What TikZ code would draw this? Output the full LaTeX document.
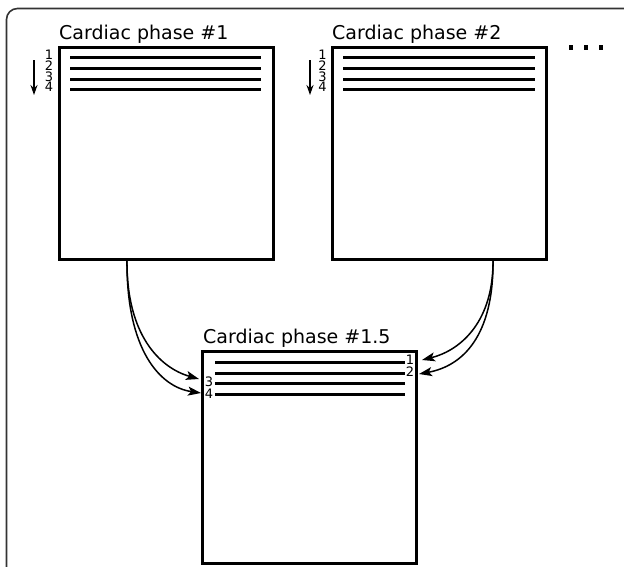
\documentclass[tikz,border=0pt]{standalone}
\usepackage{fontspec}
\setmainfont{DejaVu Sans}
\usetikzlibrary{arrows.meta}
\begin{document}
\begin{tikzpicture}[x=1pt,y=-1pt,
  phasebox/.style={draw, line width=3pt, minimum width=214pt, minimum height=212pt, inner sep=0pt},
  title/.style={font=\fontsize{19}{19}\selectfont, anchor=base west, inner sep=0pt},
  slice/.style={line width=3pt},
  num/.style={font=\fontsize{13}{13}\selectfont, inner sep=0pt},
  conn/.style={line width=1.5pt, -{Stealth[length=13pt,width=9pt,inset=3pt]}},
  order/.style={line width=1.8pt, -{Stealth[length=10pt,width=7pt]}},
  outer/.style={draw=black!80, line width=1.6pt, rounded corners=11pt}]
\useasboundingbox (0,0) rectangle (624,566);
\begin{scope}
  \clip (0,0) rectangle (624,566);
  \draw[outer] (6.5,8.5) rectangle (636,640);
\end{scope}

% boxes
\node[phasebox] (b1) at (166,153) {};
\node[phasebox] (b2) at (439.5,153) {};
\node[phasebox] (b3) at (309.5,457) {};

\node[title] (t1) at (59,39.5) {Cardiac phase \#1};
\node[title] (t2) at (332,39.5) {Cardiac phase \#2};
\node[title] (t3) at (203,343) {Cardiac phase \#1.5};

% slices
\foreach \yy [count=\i] in {57,68,79,89} {
  \draw[slice] (70,\yy) -- (261,\yy);
  \draw[slice] (343,\yy) -- (535,\yy);
  \node[num] (n1\i) at (49,\yy-2) {\i};
  \node[num] (n2\i) at (322.5,\yy-2) {\i};
}
\foreach \yy in {362,373,383,394} \draw[slice] (215,\yy) -- (405,\yy);
\node[num] (c3) at (209,382) {3};
\node[num] (c4) at (209,393.5) {4};
\node[num] (c1) at (410,360) {1};
\node[num] (c2) at (410,372) {2};

% order arrows
\coordinate (a1s) at (34,60);
\coordinate (a1e) at (34,95);
\coordinate (a2s) at (310,60);
\coordinate (a2e) at (310,95);
\draw[order] (a1s) -- (a1e);
\draw[order] (a2s) -- (a2e);

% dots
\node[fill, minimum width=4.5pt, minimum height=5pt, inner sep=0pt] (d1) at (571,47) {};
\node[fill, minimum width=4.5pt, minimum height=5pt, inner sep=0pt] (d2) at (586,47) {};
\node[fill, minimum width=4.5pt, minimum height=5pt, inner sep=0pt] (d3) at (601,47) {};

% interpolation arrows
\coordinate (s1) at (127,259);
\coordinate (s2) at (493,259);
\coordinate (e3) at (199,379);
\coordinate (e4) at (201,393);
\coordinate (e1) at (422,360);
\coordinate (e2) at (419,374);
\draw[conn] (s1) .. controls (126,335) and (160,368) .. (e3);
\draw[conn] (s1) .. controls (126,350) and (160,387) .. (e4);
\draw[conn] (s2) .. controls (494,320) and (462,350) .. (e1);
\draw[conn] (s2) .. controls (494,337) and (462,366) .. (e2);
\end{tikzpicture}
\end{document}
